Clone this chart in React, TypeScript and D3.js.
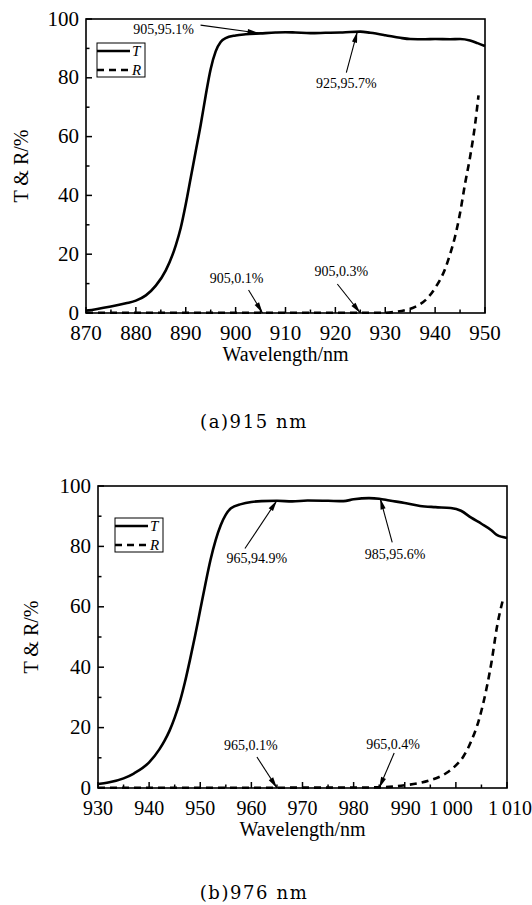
import * as d3 from "d3";
import { useEffect, useRef } from "react";

// ---- (a) 915 nm ----
const nmTA = [870, 872, 875, 878, 880, 882, 884, 886, 888, 889, 890, 891, 892, 893, 894, 895, 896, 897, 898, 900, 902, 905, 908, 910, 912, 915, 918, 921, 923, 925, 927, 930, 933, 935, 938, 940, 943, 945, 947, 948.5, 950];
const tA = [0.8, 1.3, 2.2, 3.3, 4.2, 6.0, 9.3, 14.5, 23, 29, 37, 46, 55, 64, 74, 83, 89, 92.2, 93.5, 94.4, 94.8, 95.1, 95.4, 95.5, 95.4, 95.2, 95.3, 95.4, 95.6, 95.7, 95.3, 94.5, 93.6, 93.2, 93.1, 93.2, 93.1, 93.2, 92.7, 91.8, 90.8];
const nmRA = [870, 900, 930, 932, 934, 936, 938, 940, 942, 943, 944, 945, 946, 947, 948, 948.7];
const rA = [0.1, 0.1, 0.1, 0.4, 1.0, 2.1, 4.3, 8.5, 15, 20, 26, 34, 44, 53, 64, 74];
const ticksA = [870, 880, 890, 900, 910, 920, 930, 940, 950];
const annoTextA = ["905,95.1%", "925,95.7%", "905,0.1%", "905,0.3%"];
const annoNmA = [904.6, 924.4, 905.4, 925];
const annoValA = [95.2, 95.7, 0, 0];

// ---- (b) 976 nm ----
const nmTB = [930, 932, 935, 937, 940, 942, 943, 944, 945, 946, 947, 948, 949, 950, 951, 952, 953, 954, 955, 956, 958, 960, 962, 965, 968, 971, 975, 978, 980, 983, 985, 987, 990, 993, 996, 999, 1001, 1003, 1005, 1007, 1008, 1010];
const tB = [1.3, 1.8, 3.2, 4.8, 8.5, 12.8, 15.6, 19, 23.3, 28.5, 35, 42.5, 50.5, 59, 67.5, 75.5, 82, 87, 90.5, 92.6, 94, 94.7, 95, 95.1, 94.9, 95.2, 95.1, 95, 95.6, 96, 95.8, 95.2, 94.4, 93.4, 93, 92.7, 91.8, 89.5, 87.5, 85.3, 83.8, 82.8];
const nmRB = [930, 960, 985, 988, 990, 993, 995, 998, 1000, 1001.5, 1003, 1004.5, 1006, 1007, 1008, 1009.3];
const rB = [0.1, 0.1, 0.2, 0.5, 0.9, 1.7, 2.6, 4.8, 7.5, 10.5, 15.5, 22.5, 33, 42, 53, 63];
const ticksB = [930, 940, 950, 960, 970, 980, 990, 1000, 1010];
const annoTextB = ["965,94.9%", "985,95.6%", "965,0.1%", "965,0.4%"];
const annoNmB = [965, 985.2, 965, 985];
const annoValB = [95.2, 95.9, 0, 0];

const yTicks = [0, 20, 40, 60, 80, 100];

const serif = "Liberation Serif, Tinos, Times New Roman, DejaVu Serif, serif";

type PanelCfg = {
  left: number; right: number; top: number; bottom: number;
  ticks: number[]; nmT: number[]; t: number[]; nmR: number[]; r: number[];
  annoText: string[]; annoNm: number[]; annoVal: number[];
  // layout offsets: [arrowStartDx, arrowStartDy, textDx, textDy] relative to arrow tip
  annoOffsets: number[][];
  legendDx: number; legendDy: number;
  yTitleX: number; xTitleY: number;
  caption: string; captionY: number;
  tickDx: number[]; xTickFont: number;
};

const spaceFmt = d3.formatLocale({ decimal: ".", thousands: "\u2009", grouping: [3], currency: ["", ""] }).format(",");

function drawPanel(svg: d3.Selection<SVGSVGElement, unknown, null, undefined>, c: PanelCfg) {
  const g = svg.append("g");
  const x = d3.scaleLinear().domain([c.ticks[0], c.ticks[c.ticks.length - 1]]).range([c.left, c.right]);
  const y = d3.scaleLinear().domain([0, 100]).range([c.bottom, c.top]);

  // curves
  const line = d3.line<[number, number]>().x(d => x(d[0])).y(d => y(d[1])).curve(d3.curveMonotoneX);
  g.append("path")
    .attr("d", line(c.nmT.map((v, i) => [v, c.t[i]] as [number, number])))
    .attr("fill", "none").attr("stroke", "#000").attr("stroke-width", 2.6);
  g.append("path")
    .attr("d", line(c.nmR.map((v, i) => [v, c.r[i]] as [number, number])))
    .attr("fill", "none").attr("stroke", "#000").attr("stroke-width", 2.6)
    .attr("stroke-dasharray", "7,5");

  // frame
  g.append("rect")
    .attr("x", c.left).attr("y", c.top)
    .attr("width", c.right - c.left).attr("height", c.bottom - c.top)
    .attr("fill", "none").attr("stroke", "#000").attr("stroke-width", 1.6);

  // x ticks (inward)
  const xMinor = d3.range(c.ticks[0] + 5, c.ticks[c.ticks.length - 1], 10);
  c.ticks.forEach((t, i) => {
    g.append("line").attr("x1", x(t)).attr("x2", x(t))
      .attr("y1", c.bottom).attr("y2", c.bottom - 6)
      .attr("stroke", "#000").attr("stroke-width", 1.5);
    g.append("text").attr("x", x(t) + (c.tickDx[i] || 0)).attr("y", c.bottom + 27)
      .attr("text-anchor", "middle").attr("font-family", serif).attr("font-size", c.xTickFont)
      .text(spaceFmt(t));
  });
  xMinor.forEach(t => {
    g.append("line").attr("x1", x(t)).attr("x2", x(t))
      .attr("y1", c.bottom).attr("y2", c.bottom - 3.5)
      .attr("stroke", "#000").attr("stroke-width", 1.5);
  });

  // y ticks (inward)
  yTicks.forEach(t => {
    g.append("line").attr("x1", c.left).attr("x2", c.left + 6)
      .attr("y1", y(t)).attr("y2", y(t))
      .attr("stroke", "#000").attr("stroke-width", 1.5);
    g.append("text").attr("x", c.left - 7).attr("y", y(t) + 6.5)
      .attr("text-anchor", "end").attr("font-family", serif).attr("font-size", 21)
      .text(t);
  });
  d3.range(10, 100, 20).forEach(t => {
    g.append("line").attr("x1", c.left).attr("x2", c.left + 3.5)
      .attr("y1", y(t)).attr("y2", y(t))
      .attr("stroke", "#000").attr("stroke-width", 1.5);
  });

  // axis titles
  g.append("text")
    .attr("transform", `translate(${c.yTitleX},${(c.top + c.bottom) / 2}) rotate(-90)`)
    .attr("text-anchor", "middle").attr("font-family", serif).attr("font-size", 20)
    .text("T & R/%");
  g.append("text").attr("x", (c.left + c.right) / 2).attr("y", c.xTitleY)
    .attr("text-anchor", "middle").attr("font-family", serif).attr("font-size", 20)
    .text("Wavelength/nm");

  // legend
  const lx = c.left + c.legendDx, ly = c.top + c.legendDy;
  g.append("rect").attr("x", lx).attr("y", ly).attr("width", 48).attr("height", 34)
    .attr("fill", "#fff").attr("stroke", "#000").attr("stroke-width", 1);
  [["T", null], ["R", "7,5"]].forEach(([name, dash], i) => {
    const yy = ly + 8 + i * 19;
    g.append("line").attr("x1", lx).attr("x2", lx + 33).attr("y1", yy).attr("y2", yy)
      .attr("stroke", "#000").attr("stroke-width", 2.6)
      .attr("stroke-dasharray", dash as string | null);
    g.append("text").attr("x", lx + 35).attr("y", yy + 5)
      .attr("font-family", serif).attr("font-style", "italic").attr("font-size", 15)
      .text(name as string);
  });

  // annotations
  c.annoText.forEach((label, i) => {
    const tx = x(c.annoNm[i]), ty = y(c.annoVal[i]);
    const [ax, ay, dx, dy] = c.annoOffsets[i];
    g.append("line").attr("x1", tx + ax).attr("y1", ty + ay).attr("x2", tx).attr("y2", ty)
      .attr("stroke", "#000").attr("stroke-width", 1.1);
    const ang = Math.atan2(-ay, -ax);
    const L = 11, W = 2.6;
    const bx = tx - L * Math.cos(ang), by = ty - L * Math.sin(ang);
    const px = -Math.sin(ang) * W, py = Math.cos(ang) * W;
    g.append("path")
      .attr("d", `M${tx},${ty}L${bx + px},${by + py}L${bx - px},${by - py}Z`)
      .attr("fill", "#000");
    g.append("text").attr("x", tx + dx).attr("y", ty + dy)
      .attr("text-anchor", "middle").attr("font-family", serif).attr("font-size", 14)
      .text(label);
  });

  // caption
  svg.append("text").attr("x", 254).attr("y", c.captionY)
    .attr("text-anchor", "middle").attr("font-family", "DejaVu Serif, serif").attr("font-size", 18)
    .attr("letter-spacing", 1.6)
    .text(c.caption);
}

const App = () => {
  const ref = useRef<SVGSVGElement>(null);
  const drawn = useRef(false);

  useEffect(() => {
    if (drawn.current || !ref.current) return;
    drawn.current = true;
    const svg = d3.select(ref.current);
    drawPanel(svg, {
      left: 86, right: 485, top: 19, bottom: 313,
      ticks: ticksA, nmT: nmTA, t: tA, nmR: nmRA, r: rA,
      annoText: annoTextA, annoNm: annoNmA, annoVal: annoValA,
      annoOffsets: [[-58, -8, -95, 1], [-11, 41, -11, 56], [-14, -23, -26, -30], [-23, -29, -19, -37]],
      legendDx: 11, legendDy: 24,
      yTitleX: 28, xTitleY: 361,
      caption: "(a)915 nm", captionY: 428,
      tickDx: [], xTickFont: 21,
    });
    drawPanel(svg, {
      left: 98, right: 507, top: 486, bottom: 788,
      ticks: ticksB, nmT: nmTB, t: tB, nmR: nmRB, r: rB,
      annoText: annoTextB, annoNm: annoNmB, annoVal: annoValB,
      annoOffsets: [[-32, 48, -20, 63], [12, 44, 15, 61], [-20, -31, -26, -38], [15, -35, 14, -39]],
      legendDx: 17, legendDy: 32,
      yTitleX: 38, xTitleY: 836,
      caption: "(b)976 nm", captionY: 899,
      tickDx: [0, 0, 0, 0, 0, 0, 1, -5, 3], xTickFont: 20,
    });
  }, []);

  return (
    <div style={{ position: "absolute", left: 0, top: 0 }}>
      <svg ref={ref} width={532} height={905} style={{ display: "block", background: "#fff" }} />
    </div>
  );
};

export default App;
